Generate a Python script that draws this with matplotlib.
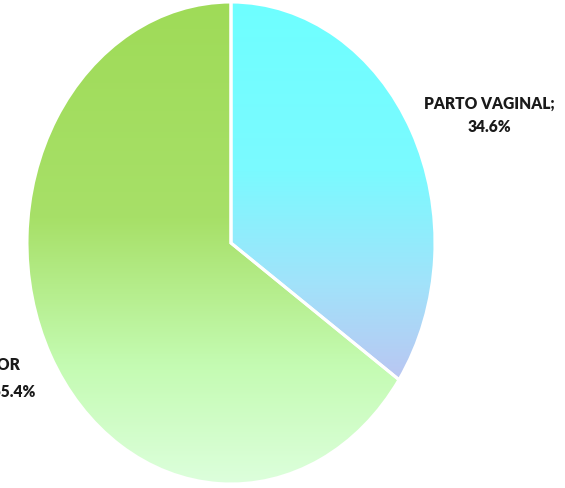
import numpy as np
import matplotlib
matplotlib.use("Agg")
import matplotlib.pyplot as plt
from matplotlib.colors import LinearSegmentedColormap

labels = ["PARTO VAGINAL", "PARTO POR\nCESÁREA"]
values = [34.6, 65.4]
grad_stops = [
    [(0.0, "#6EFFFF"), (0.45, "#7BFAFF"), (0.75, "#A2E2FA"), (1.0, "#BAC6F2")],
    [(0.0, "#9FDB58"), (0.45, "#A7E068"), (0.75, "#C4FBB2"), (1.0, "#DDFFDD")],
]

W, H = 565, 489
fig = plt.figure(figsize=(W / 100, H / 100), dpi=100)
ax = fig.add_axes([0, 0, 1, 1])

cx, cy, rx, ry = 231, 244, 204, 241
wedges, _ = ax.pie(values, startangle=90, counterclock=False, radius=1,
                   wedgeprops=dict(edgecolor="white", linewidth=2.2, facecolor="none"))
ax.set_aspect("auto")
ax.axis("off")

for w, stops in zip(wedges, grad_stops):
    cmap = LinearSegmentedColormap.from_list("g", stops)
    verts = w.get_path().vertices
    ymin, ymax = verts[:, 1].min(), verts[:, 1].max()
    xmin, xmax = verts[:, 0].min(), verts[:, 0].max()
    grad = np.linspace(0, 1, 256).reshape(-1, 1)
    im = ax.imshow(grad, cmap=cmap, extent=[xmin, xmax, ymin, ymax],
                   origin="upper", aspect="auto", zorder=0.5, interpolation="bilinear")
    im.set_clip_path(w)
    w.set_zorder(1)

font = dict(family=["Lato", "DejaVu Sans"], fontweight="heavy", fontsize=11.2, color="#1a1a1a")
ax.text((489 - cx) / rx, (cy - 115) / ry, f"{labels[0]};\n{values[0]:.1f}%",
        ha="center", va="center", linespacing=1.55, multialignment="center", **font)
ax.text((35 - cx) / rx, (cy - 378) / ry, f"{labels[1]}; {values[1]:.1f}%",
        ha="right", va="center", linespacing=1.55, multialignment="center", **font)

ax.set_xlim((0 - cx) / rx, (W - cx) / rx)
ax.set_ylim(-(H - cy) / ry, cy / ry)
fig.savefig("out.png", dpi=100)
